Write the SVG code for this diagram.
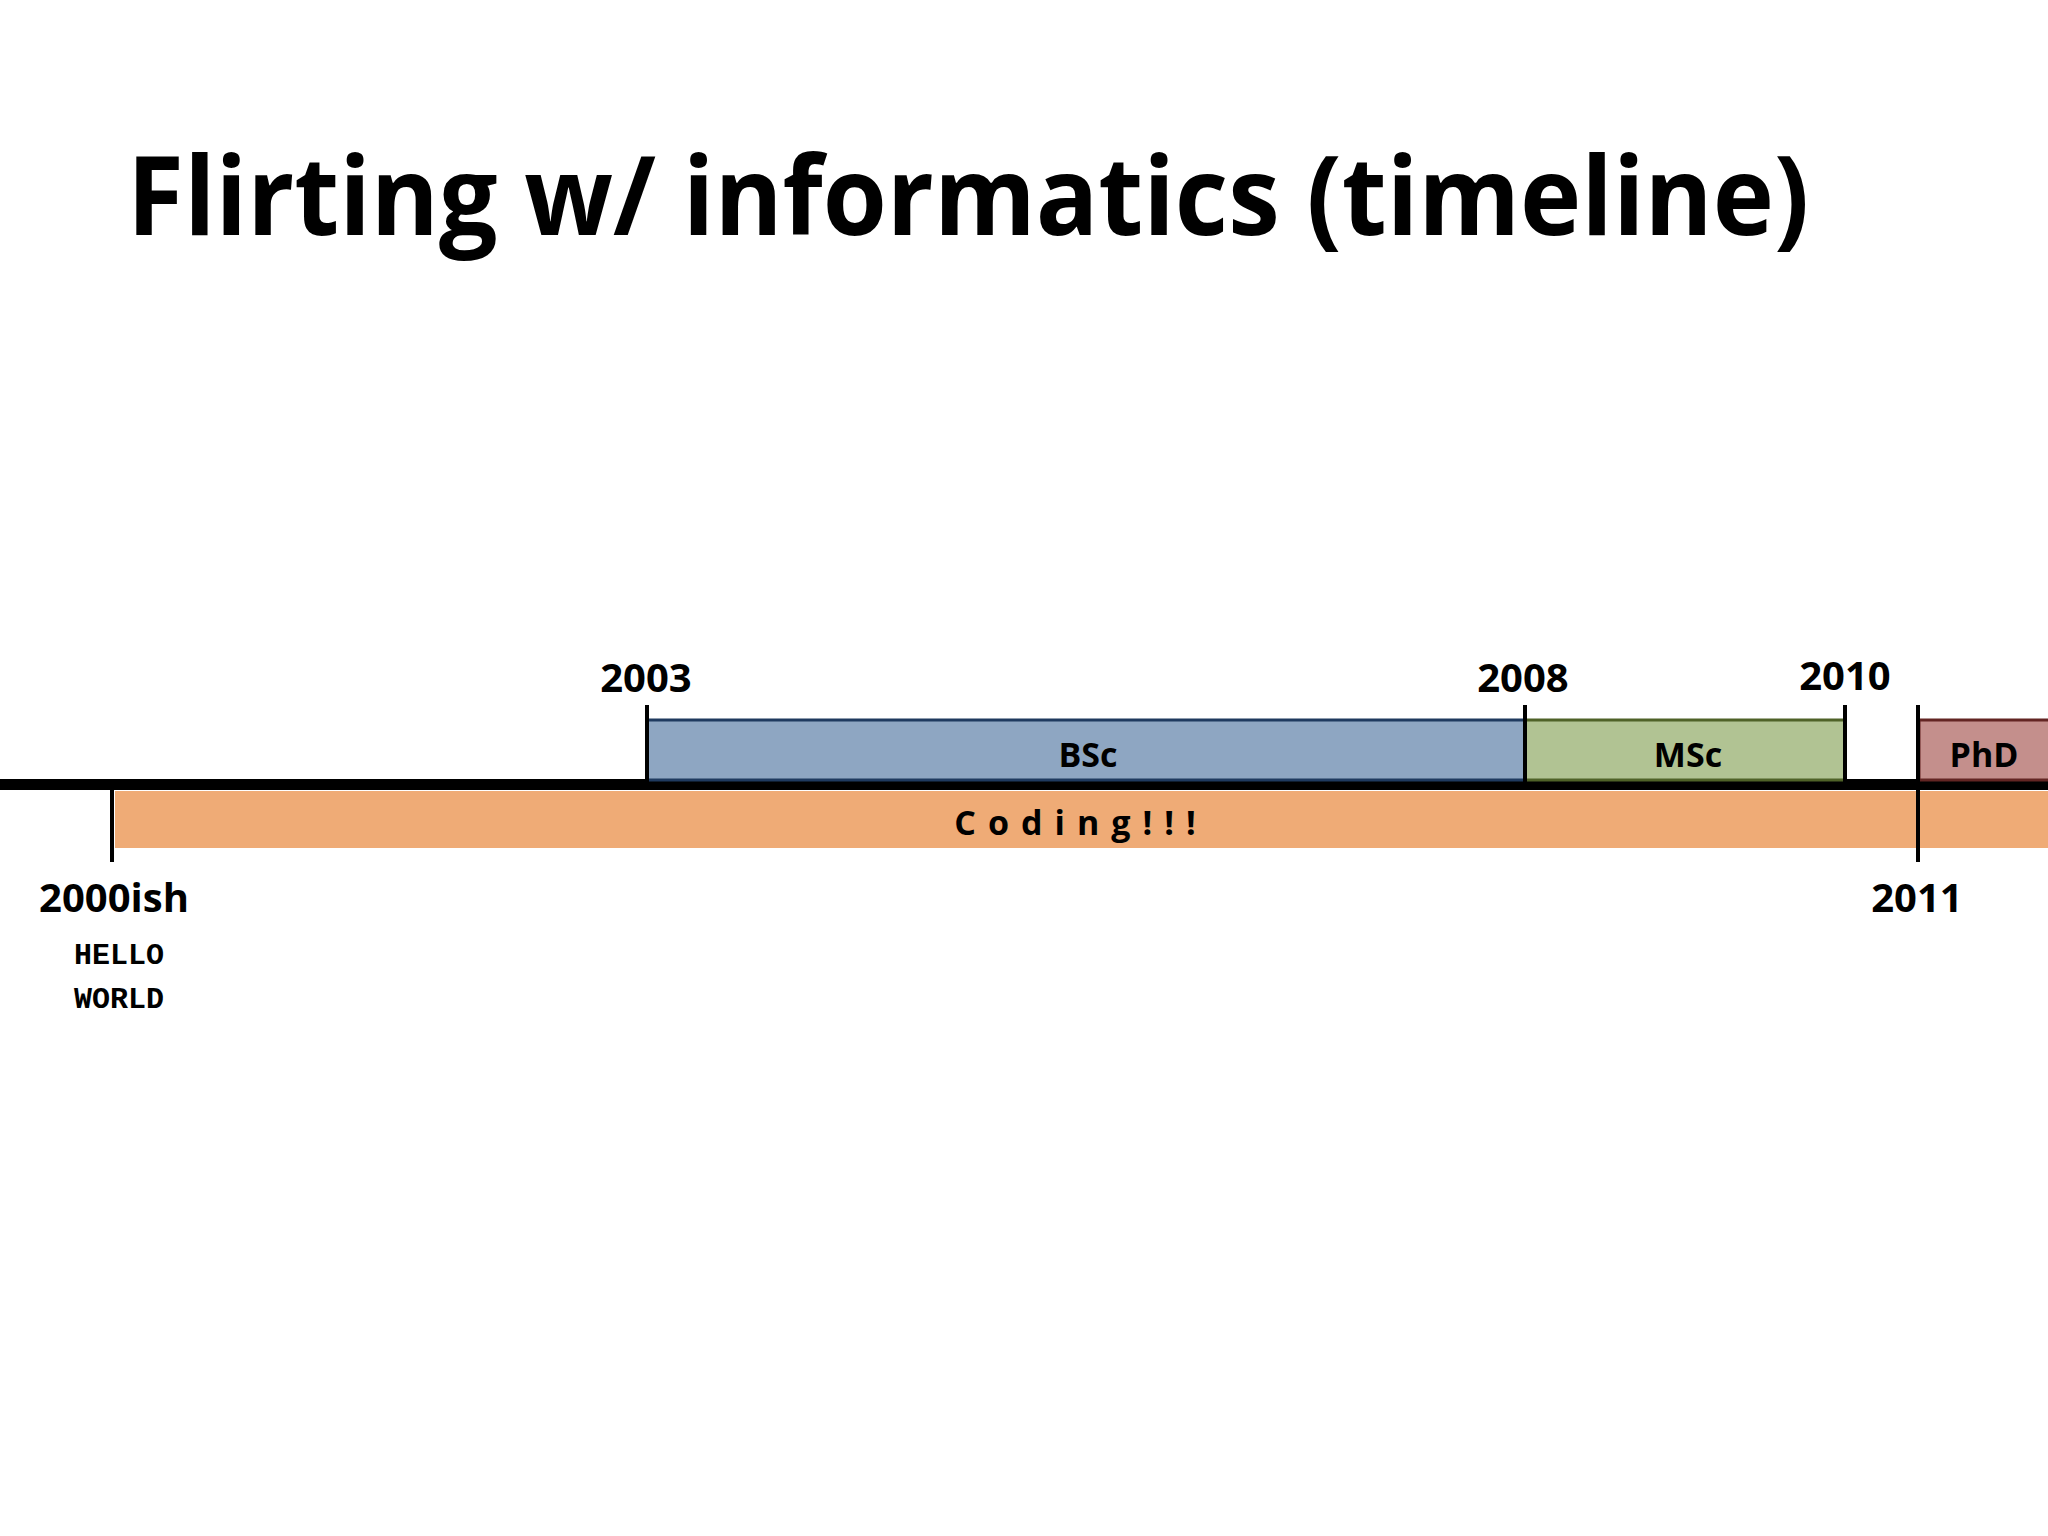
<svg xmlns="http://www.w3.org/2000/svg" width="2048" height="1536" viewBox="0 0 2048 1536">
<style>
.t{font-family:"Open Sans","Liberation Sans",sans-serif;font-weight:bold;fill:#000;text-anchor:middle}
.yr{font-size:40px}
.tick{stroke:#000;stroke-width:4}
</style>
<rect width="2048" height="1536" fill="#fff"/>
<text x="127" y="235" class="t" style="text-anchor:start;font-size:110px" textLength="1682" lengthAdjust="spacingAndGlyphs">Flirting w/ informatics (timeline)</text>
<g id="coding"><rect x="115" y="791" width="1940" height="57" fill="#EFAB76"/>
<text x="1081" y="835" class="t" style="font-size:34px;letter-spacing:12px">Coding!!!</text></g>
<g id="axis"><rect x="0" y="779" width="2048" height="11" fill="#000"/></g>
<g id="bsc"><rect x="647" y="720" width="878" height="60" fill="#8EA6C2" stroke="#1F3A5F" stroke-width="3"/>
<text x="1088" y="767" class="t" style="font-size:34px">BSc</text></g>
<g id="msc"><rect x="1525" y="720" width="320" height="60" fill="#B1C393" stroke="#4F6228" stroke-width="3"/>
<text x="1688" y="767" class="t" style="font-size:34px">MSc</text></g>
<g id="phd"><rect x="1919" y="720" width="140" height="60" fill="#C48F8C" stroke="#632523" stroke-width="3"/>
<text x="1984" y="767" class="t" style="font-size:34px">PhD</text></g>
<g id="connectors">
<line class="tick" x1="112" y1="789" x2="112" y2="862"/>
<line class="tick" x1="647" y1="705" x2="647" y2="784"/>
<line class="tick" x1="1525" y1="705" x2="1525" y2="784"/>
<line class="tick" x1="1845" y1="705" x2="1845" y2="784"/>
<line class="tick" x1="1918" y1="705" x2="1918" y2="862"/>
</g>
<g id="labels">
<text x="646" y="692" class="t yr">2003</text>
<text x="1523" y="692" class="t yr">2008</text>
<text x="1845" y="690" class="t yr">2010</text>
<text x="114" y="912" class="t yr">2000ish</text>
<text x="1917" y="912" class="t yr">2011</text>
<text x="119" y="964" style="font-family:'Liberation Mono',monospace;font-weight:bold;font-size:30px;text-anchor:middle">HELLO</text>
<text x="119" y="1008" style="font-family:'Liberation Mono',monospace;font-weight:bold;font-size:30px;text-anchor:middle">WORLD</text>
</g>
</svg>
